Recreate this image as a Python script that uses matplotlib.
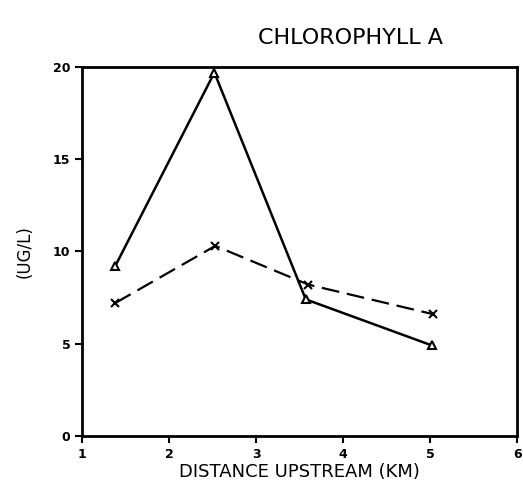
import matplotlib.pyplot as plt

# distance upstream (km) and chlorophyll a (ug/l)
dist_tri = [1.38, 2.52, 3.57, 5.02]
chl_tri = [9.2, 19.7, 7.4, 4.9]
dist_x = [1.38, 2.53, 3.60, 5.03]
chl_x = [7.2, 10.3, 8.2, 6.6]

xticks = [1, 2, 3, 4, 5, 6]
yticks = [0, 5, 10, 15, 20]

fig = plt.figure(figsize=(5.23, 4.93), dpi=100)
ax = fig.add_axes([0.157, 0.116, 0.832, 0.748])

ax.plot(dist_tri, chl_tri, color='black', lw=1.8, marker='^', ms=6,
        mfc='white', mec='black', mew=1.5)
ax.plot(dist_x, chl_x, color='black', lw=1.6, ls=(0, (8, 3.5)), marker='x',
        ms=6, mew=1.5)

ax.set_xlim(1, 6)
ax.set_ylim(0, 20)
ax.set_xticks(xticks)
ax.set_yticks(yticks)
ax.tick_params(direction='out', length=5, width=1.5, labelsize=9)
for lab in ax.get_xticklabels() + ax.get_yticklabels():
    lab.set_fontweight('bold')
for s in ax.spines.values():
    s.set_linewidth(2)

ax.set_xlabel('DISTANCE UPSTREAM (KM)', fontsize=13, labelpad=2)
ax.set_ylabel('(UG/L)', fontsize=12, labelpad=14)
fig.text(0.67, 0.91, 'CHLOROPHYLL A', fontsize=16, ha='center')

plt.savefig('out.png', dpi=100)
